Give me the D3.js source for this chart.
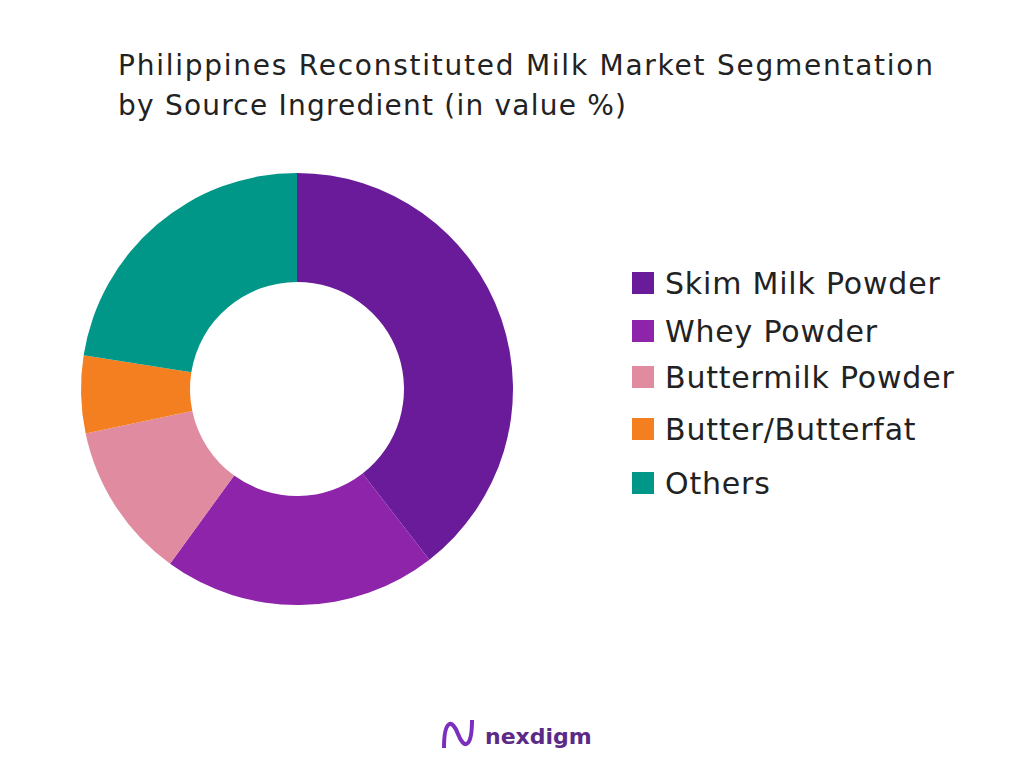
<!DOCTYPE html>
<html><head><meta charset="utf-8">
<script src="https://cdn.jsdelivr.net/npm/d3@7"></script>
<style>body{margin:0;background:#fff}</style>
</head><body>
<script>
const categories = ["Skim Milk Powder", "Whey Powder", "Buttermilk Powder", "Butter/Butterfat", "Others"];
const values = [39.5, 20.5, 11.7, 5.8, 22.5];
const colors = ["#6a1b9a", "#8e24aa", "#e08ba0", "#f37f21", "#009688"];
const legendY = [283, 331, 377, 429, 483];

const width = 1024, height = 768;
const svg = d3.select("body").append("svg").attr("width", width).attr("height", height)
  .style("font-family", "'DejaVu Sans', sans-serif");

svg.append("text").attr("x", 118).attr("y", 75).attr("font-size", 28).attr("fill", "#222")
  .attr("textLength", 815).attr("lengthAdjust", "spacing")
  .text("Philippines Reconstituted Milk Market Segmentation");
svg.append("text").attr("x", 118).attr("y", 115).attr("font-size", 28).attr("fill", "#222")
  .attr("textLength", 508).attr("lengthAdjust", "spacing")
  .text("by Source Ingredient (in value %)");

const pie = d3.pie().sort(null).value(d => d)(values);
const arc = d3.arc().innerRadius(107).outerRadius(216);

svg.append("g").attr("transform", "translate(297,389)")
  .selectAll("path").data(pie).enter().append("path")
    .attr("d", arc)
    .attr("fill", (d, i) => colors[i]);

const leg = svg.append("g").selectAll("g").data(categories).enter().append("g")
  .attr("transform", (d, i) => `translate(632,${legendY[i]})`);
leg.append("rect").attr("x", 0).attr("y", -11).attr("width", 22).attr("height", 22)
  .attr("fill", (d, i) => colors[i]);
leg.append("text").attr("x", 33).attr("y", 0).attr("dy", "0.35em")
  .attr("font-size", 30).attr("letter-spacing", 0.8).attr("fill", "#222").text(d => d);

// logo
const logo = svg.append("g");
logo.append("path").attr("d", "M444,748 C444,720 452,718 458,734 C464,750 472,748 472,720")
  .attr("fill", "none").attr("stroke", "#7b2fbe").attr("stroke-width", 4);
logo.append("text").attr("x", 485).attr("y", 744).attr("font-size", 22).attr("font-weight", "bold")
  .attr("fill", "#5b2a86").text("nexdigm");
</script>
</body></html>
